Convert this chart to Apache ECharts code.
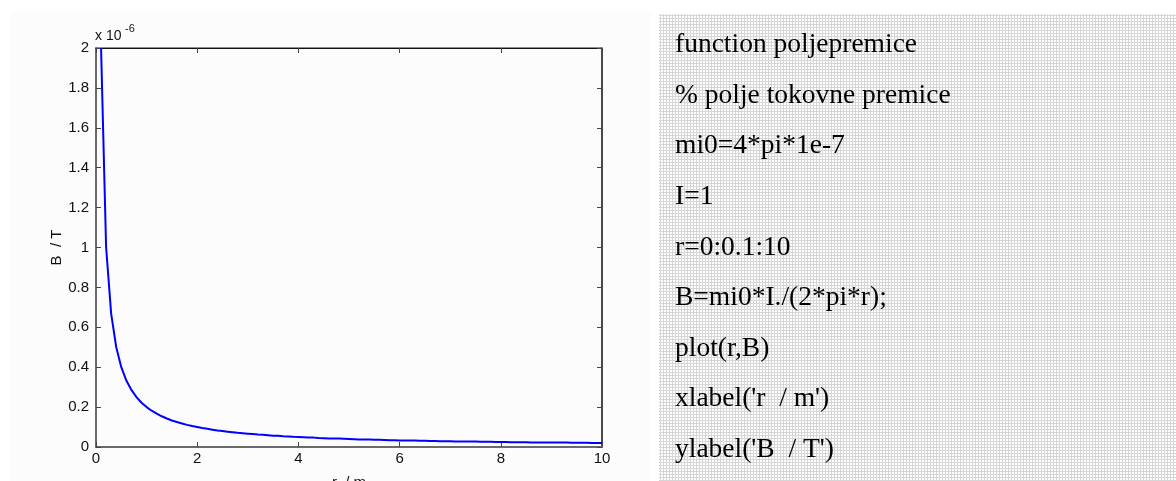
<!DOCTYPE html>
<html>
<head>
<meta charset="utf-8">
<script src="https://cdn.jsdelivr.net/npm/echarts@6/dist/echarts.min.js"></script>
<style>
html,body{margin:0;padding:0;background:#fff;}
#c{width:1176px;height:481px;}
</style>
</head>
<body>
<div id="c"></div>
<script>
// r in metres (MATLAB r=0:0.1:10; r=0 gives Inf and is not drawn)
var rValues = [0.1,0.2,0.3,0.4,0.5,0.6,0.7,0.8,0.9,1.0,
1.1,1.2,1.3,1.4,1.5,1.6,1.7,1.8,1.9,2.0,
2.1,2.2,2.3,2.4,2.5,2.6,2.7,2.8,2.9,3.0,
3.1,3.2,3.3,3.4,3.5,3.6,3.7,3.8,3.9,4.0,
4.1,4.2,4.3,4.4,4.5,4.6,4.7,4.8,4.9,5.0,
5.1,5.2,5.3,5.4,5.5,5.6,5.7,5.8,5.9,6.0,
6.1,6.2,6.3,6.4,6.5,6.6,6.7,6.8,6.9,7.0,
7.1,7.2,7.3,7.4,7.5,7.6,7.7,7.8,7.9,8.0,
8.1,8.2,8.3,8.4,8.5,8.6,8.7,8.8,8.9,9.0,
9.1,9.2,9.3,9.4,9.5,9.6,9.7,9.8,9.9,10.0];
// B in units of 1e-6 T
var bValues = [2,1,0.667,0.5,0.4,0.333,0.286,0.25,0.222,0.2,
0.182,0.167,0.154,0.143,0.133,0.125,0.118,0.111,0.105,0.1,
0.095,0.091,0.087,0.083,0.08,0.077,0.074,0.071,0.069,0.067,
0.065,0.0625,0.061,0.059,0.057,0.056,0.054,0.053,0.051,0.05,
0.049,0.048,0.047,0.045,0.044,0.043,0.043,0.042,0.041,0.04,
0.039,0.038,0.038,0.037,0.036,0.036,0.035,0.034,0.034,0.033,
0.033,0.032,0.032,0.031,0.031,0.030,0.030,0.029,0.029,0.029,
0.028,0.028,0.027,0.027,0.027,0.026,0.026,0.026,0.025,0.025,
0.025,0.024,0.024,0.024,0.024,0.023,0.023,0.023,0.022,0.022,
0.022,0.022,0.022,0.021,0.021,0.021,0.021,0.020,0.020,0.020];
var xTickLabels = ['0','2','4','6','8','10'];
var yTickLabels = ['0','0.2','0.4','0.6','0.8','1','1.2','1.4','1.6','1.8','2'];
var codeLines = [
  "function poljepremice",
  "% polje tokovne premice",
  "mi0=4*pi*1e-7",
  "I=1",
  "r=0:0.1:10",
  "B=mi0*I./(2*pi*r);",
  "plot(r,B)",
  "xlabel('r  / m')",
  "ylabel('B  / T')"
];
var xLabel = 'r  / m';
var yLabel = 'B  / T';

var seriesData = rValues.map(function(r,i){return [r,bValues[i]];});

// dotted pattern for the code panel
var pc = document.createElement('canvas');
pc.width = 3; pc.height = 3;
var pctx = pc.getContext('2d');
pctx.fillStyle = '#ffffff'; pctx.fillRect(0,0,3,3);
pctx.fillStyle = '#d6d6d6'; pctx.fillRect(0,0,3,1); pctx.fillRect(0,0,1,3);

var textEls = codeLines.map(function(t,i){
  return {type:'text', x:675, y:31 + 50.6*i, silent:true,
    style:{text:t, fill:'#000', font:'27.5px "Liberation Serif"', textVerticalAlign:'top', textAlign:'left'}};
});

var chart = echarts.init(document.getElementById('c'), null, {renderer:'canvas'});
var yFmt = function(v){ var s = String(+v.toFixed(1)); return yTickLabels.indexOf(s) >= 0 ? s : ''; };
var xFmt = function(v){ var s = String(Math.round(v)); return xTickLabels.indexOf(s) >= 0 ? s : ''; };
chart.setOption({
  animation:false,
  backgroundColor:'#ffffff',
  textStyle:{fontFamily:'"Liberation Sans", Arial'},
  grid:{left:96, top:48, width:506, height:399, containLabel:false, outerBoundsMode:'none',
        show:true, borderColor:'#222', borderWidth:1, backgroundColor:'transparent'},
  xAxis:[
    {type:'value', min:0, max:10, interval:2, position:'bottom',
     axisLine:{show:true, onZero:false, lineStyle:{color:'#6a6a6a', width:2}},
     axisTick:{show:true, inside:true, length:5, lineStyle:{color:'#444'}},
     axisLabel:{show:true, color:'#111', fontSize:15, margin:4, formatter:xFmt},
     splitLine:{show:false},
     name:xLabel, nameLocation:'middle', nameGap:28, nameTextStyle:{color:'#111', fontSize:15}},
    {type:'value', min:0, max:10, interval:2, position:'top',
     axisLine:{show:true, onZero:false, lineStyle:{color:'#111', width:1}},
     axisTick:{show:true, inside:true, length:5, lineStyle:{color:'#444'}},
     axisLabel:{show:false}, splitLine:{show:false}}
  ],
  yAxis:[
    {type:'value', min:0, max:2, interval:0.2, position:'left',
     axisLine:{show:true, onZero:false, lineStyle:{color:'#6a6a6a', width:2}},
     axisTick:{show:true, inside:true, length:5, lineStyle:{color:'#444'}},
     axisLabel:{show:true, color:'#111', fontSize:15, margin:7, formatter:yFmt},
     splitLine:{show:false},
     name:yLabel, nameLocation:'middle', nameGap:31, nameTextStyle:{color:'#111', fontSize:15}},
    {type:'value', min:0, max:2, interval:0.2, position:'right',
     axisLine:{show:true, onZero:false, lineStyle:{color:'#333', width:1.5}},
     axisTick:{show:true, inside:true, length:5, lineStyle:{color:'#444'}},
     axisLabel:{show:false}, splitLine:{show:false}}
  ],
  series:[{type:'line', data:seriesData, xAxisIndex:0, yAxisIndex:0, showSymbol:false, symbol:'none',
    lineStyle:{color:'#0000ff', width:2}, clip:true, silent:true}],
  graphic:[
    {type:'rect', shape:{x:11, y:11, width:640, height:470}, style:{fill:'#fcfcfc'}, z:-10, silent:true},
    {type:'rect', shape:{x:659, y:14, width:517, height:467}, style:{fill:'#ececec'}, z:-5, silent:true},
    {type:'rect', shape:{x:659, y:14, width:517, height:467}, style:{fill:{image:pc, repeat:'repeat'}}, z:-4, silent:true},
    {type:'text', x:95, y:29, silent:true,
     style:{text:'x 10', fill:'#111', font:'14px "Liberation Sans"', textVerticalAlign:'top', textAlign:'left'}},
    {type:'text', x:125, y:23, silent:true,
     style:{text:'-6', fill:'#111', font:'11px "Liberation Sans"', textVerticalAlign:'top', textAlign:'left'}}
  ].concat(textEls)
});
</script>
</body>
</html>
